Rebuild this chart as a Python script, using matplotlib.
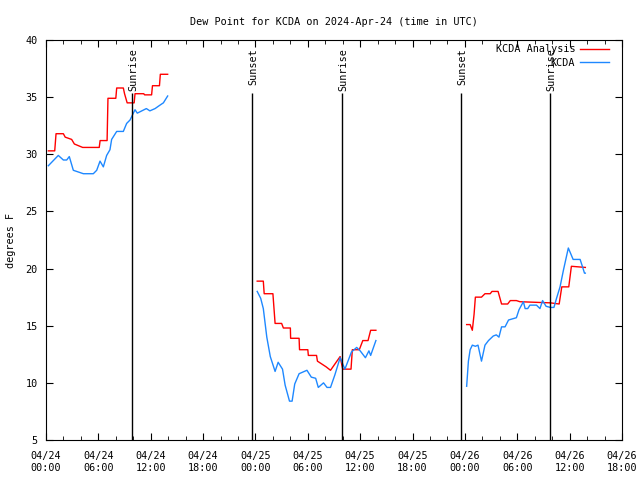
import matplotlib
matplotlib.use("Agg")
import matplotlib.pyplot as plt
from matplotlib.ticker import MultipleLocator
import numpy as np

# hours since 04/24 00:00 UTC, dew point in degrees F
ana_hours = [0.27, 1.0, 1.15, 1.99, 2.2, 2.94, 3.25, 4.2, 6.1, 6.2, 7.0, 7.1, 8.0, 8.1, 8.86, 9.0, 9.3, 10.1,
             10.2, 11.2, 11.3, 12.1, 12.2, 13.0, 13.1, 13.94, np.nan,
             24.2, 24.9, 25.0, 26.0, 26.25, 27.0, 27.2, 28.0, 28.03, 29.0, 29.05, 30.0, 30.06, 31.0, 31.1, 32.1,
             32.6, 33.7, 34.0, 34.95, 35.1, 35.9, 36.3, 36.9, 37.2, 37.8, np.nan,
             48.2, 48.6, 48.85, 49.05, 49.2, 49.9, 50.3, 50.9, 51.1, 51.8, 52.2, 52.9, 53.2, 53.9, 54.3, 57.8,
             58.8, 59.1, 59.9, 60.2, 61.8]
ana_vals = [30.3, 30.3, 31.8, 31.8, 31.5, 31.3, 30.9, 30.6, 30.6, 31.2, 31.2, 34.9, 34.9, 35.8, 35.8, 35.3, 34.5, 34.5,
            35.3, 35.3, 35.2, 35.2, 36.0, 36.0, 37.0, 37.0, np.nan,
            18.9, 18.9, 17.8, 17.8, 15.2, 15.2, 14.8, 14.8, 13.9, 13.9, 12.9, 12.9, 12.4, 12.4, 11.9, 11.4,
            11.1, 12.3, 11.2, 11.2, 12.9, 12.9, 13.7, 13.7, 14.6, 14.6, np.nan,
            15.1, 15.1, 14.6, 16.0, 17.5, 17.5, 17.8, 17.8, 18.0, 18.0, 16.9, 16.9, 17.2, 17.2, 17.1, 17.0,
            16.9, 18.4, 18.4, 20.2, 20.1]

obs_hours = [0.27, 1.41, 1.99, 2.37, 2.67, 3.13, 3.9, 4.28, 5.42, 5.81, 6.19, 6.57, 6.95, 7.33, 7.52, 8.1, 8.86,
             9.24, 9.63, 10.2, 10.46, 11.5, 11.9, 12.5, 12.87, 13.25, 13.45, 13.94, np.nan,
             24.2, 24.6, 24.9, 25.3, 25.7, 26.25, 26.6, 27.1, 27.4, 27.9, 28.2, 28.5, 29.0, 29.9, 30.4, 30.9,
             31.2, 31.8, 32.2, 32.6, 33.1, 33.7, 34.25, 35.0, 35.6, 36.0, 36.6, 37.0, 37.2, 37.8, np.nan,
             48.2, 48.4, 48.6, 48.85, 49.2, 49.5, 49.9, 50.3, 50.7, 51.25, 51.6, 51.9, 52.2, 52.6, 53.0, 53.9,
             54.2, 54.7, 54.9, 55.2, 55.45, 56.2, 56.6, 56.9, 57.3, 57.8, 58.2, 58.5, 58.9, 59.3, 59.85, 60.4,
             61.2, 61.5, 61.7, 61.8]
obs_vals = [29.0, 29.9, 29.5, 29.5, 29.8, 28.6, 28.4, 28.3, 28.3, 28.6, 29.4, 28.9, 29.9, 30.4, 31.3, 32.0, 32.0,
            32.7, 33.0, 33.9, 33.6, 34.0, 33.8, 34.0, 34.2, 34.4, 34.5, 35.1, np.nan,
            18.0, 17.4, 16.5, 14.0, 12.3, 11.0, 11.8, 11.2, 9.8, 8.4, 8.4, 9.9, 10.8, 11.1, 10.5, 10.4,
            9.6, 10.0, 9.6, 9.6, 10.7, 12.2, 11.2, 12.7, 13.1, 12.8, 12.2, 12.8, 12.4, 13.7, np.nan,
            9.7, 11.9, 12.9, 13.3, 13.2, 13.3, 11.9, 13.3, 13.7, 14.1, 14.2, 14.0, 14.9, 14.9, 15.5, 15.7,
            16.4, 17.1, 16.5, 16.5, 16.8, 16.8, 16.5, 17.2, 16.7, 16.6, 16.6, 17.4, 18.4, 19.9, 21.8, 20.8,
            20.8, 20.1, 19.6, 19.6]

sun_hours = [9.85, 23.6, 33.9, 47.55, 57.75]
sun_labels = ["Sunrise", "Sunset", "Sunrise", "Sunset", "Sunrise"]

tick_hours = list(range(0, 67, 6))
tick_labels = ["04/24\n00:00", "04/24\n06:00", "04/24\n12:00", "04/24\n18:00",
               "04/25\n00:00", "04/25\n06:00", "04/25\n12:00", "04/25\n18:00",
               "04/26\n00:00", "04/26\n06:00", "04/26\n12:00", "04/26\n18:00"]

plt.rcParams['font.family'] = ['DejaVu Sans Mono']
plt.rcParams['font.size'] = 7.3

fig = plt.figure(figsize=(6.4, 4.8), dpi=100)
ax = fig.add_axes([46/640, 40/480, 576/640, 400/480])

ax.plot(ana_hours, ana_vals, color="#ff0000", lw=1, label="KCDA Analysis")
ax.plot(obs_hours, obs_vals, color="#1e88ff", lw=1, label="KCDA")

# sunrise / sunset markers: line stops just under the label
for h, lab in zip(sun_hours, sun_labels):
    ax.vlines(h, 5, 35.4, color="black", lw=1)
    ax.text(h + 0.15, 39.3, lab, rotation=90, ha="center", va="top")

ax.set_xlim(0, 66)
ax.set_ylim(5, 40)
ax.set_xticks(tick_hours)
ax.set_xticklabels(tick_labels, linespacing=1.25)
ax.xaxis.set_minor_locator(MultipleLocator(2))
ax.yaxis.set_major_locator(MultipleLocator(5))
ax.tick_params(which="both", direction="in", top=True, right=True)
ax.tick_params(which="major", length=5)
ax.tick_params(which="minor", length=3)
ax.tick_params(axis="x", pad=8)
ax.tick_params(axis="y", pad=6)

ax.set_ylabel("degrees F", labelpad=7)
ax.set_title("Dew Point for KCDA on 2024-Apr-24 (time in UTC)", fontsize=7.3, pad=11)

leg = ax.legend(loc="upper right", bbox_to_anchor=(0.984, 1.0), frameon=False, markerfirst=False,
                handlelength=2.8, borderaxespad=0, labelspacing=0.35, handletextpad=0.5)
for t in leg.get_texts():
    t.set_ha("right")

fig.savefig("out.png", dpi=100)
